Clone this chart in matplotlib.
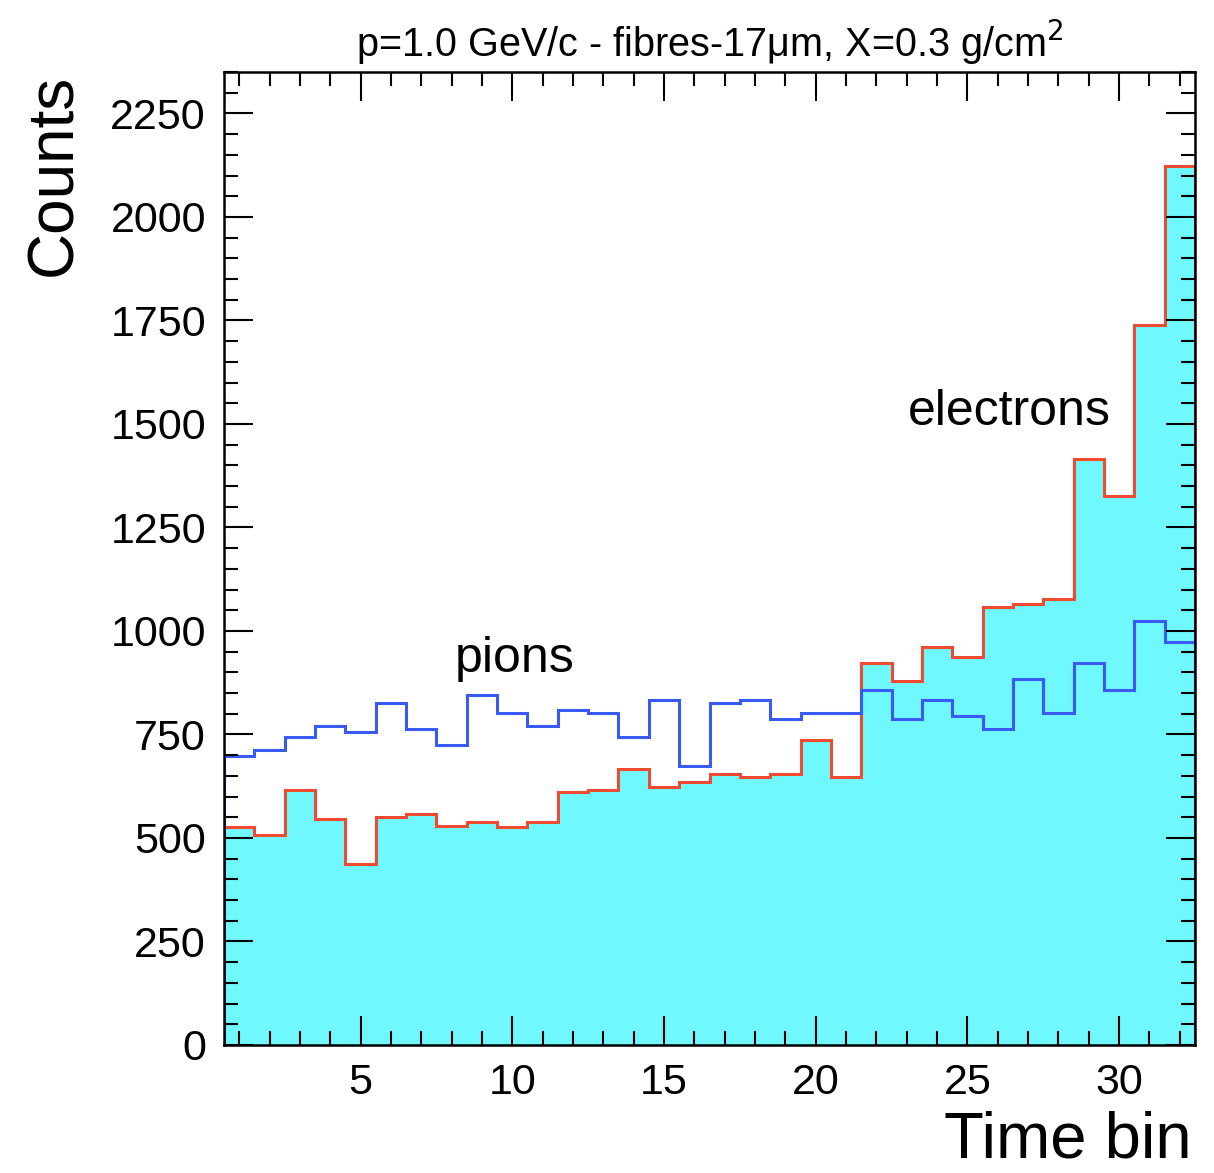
import numpy as np
import matplotlib
matplotlib.use("Agg")
import matplotlib.pyplot as plt
from matplotlib.ticker import MultipleLocator

plt.rcParams["font.family"] = ["Liberation Sans", "DejaVu Sans"]

# 32 time bins, centred on 1..32
time_bins = np.arange(1, 33)
edges = np.arange(0.5, 33.0, 1.0)

electrons = [526, 506, 616, 546, 437, 550, 558, 530, 539, 526, 539, 610, 616,
             666, 622, 635, 654, 648, 654, 736, 647, 922, 879, 961, 936, 1057,
             1065, 1077, 1415, 1325, 1739, 2122]
pions = [698, 712, 745, 770, 756, 826, 762, 725, 846, 802, 770, 808, 801,
         744, 833, 674, 826, 834, 788, 801, 801, 858, 788, 833, 795, 762,
         884, 801, 922, 858, 1025, 974]

title = "p=1.0 GeV/c - fibres-17\u03bcm, X=0.3 g/cm$^2$"

fig = plt.figure(figsize=(12.14, 11.73), dpi=100)
ax = fig.add_axes([224 / 1214, 128 / 1173, 971 / 1214, 973 / 1173])

# electrons: filled histogram with red outline, pions: blue outline
ax.stairs(electrons, edges, fill=True, color="#6ff9ff", linewidth=0)
ax.stairs(electrons, edges, color="#f04a30", linewidth=2.2, baseline=0)
ax.stairs(pions, edges, color="#3a5af5", linewidth=2.2, baseline=0)

ax.set_xlim(0.5, 32.5)
ax.set_ylim(0, 2350)

ax.xaxis.set_major_locator(MultipleLocator(5))
ax.xaxis.set_minor_locator(MultipleLocator(1))
ax.yaxis.set_major_locator(MultipleLocator(250))
ax.yaxis.set_minor_locator(MultipleLocator(50))
ax.tick_params(which="both", direction="in", top=True, right=True, width=1.5,
               labelsize=31)
ax.tick_params(which="major", length=21)
ax.tick_params(which="minor", length=10)
ax.tick_params(axis="x", pad=13)
ax.tick_params(axis="y", pad=13)
for s in ax.spines.values():
    s.set_linewidth(1.8)

ax.text(8.09, 901, "pions", fontsize=36)
ax.text(23.03, 1498, "electrons", fontsize=36)

fig.text(710 / 1214, 1 - 57 / 1173, title, ha="center", va="baseline", fontsize=28.5)
fig.text(54 / 1214, 1 - 74 / 1173, "Counts", rotation=90, ha="center", va="top",
         fontsize=46)
fig.text(1192 / 1214, 1 - 1158 / 1173, "Time bin", ha="right", va="baseline",
         fontsize=47)

fig.savefig("out.png", dpi=100)
